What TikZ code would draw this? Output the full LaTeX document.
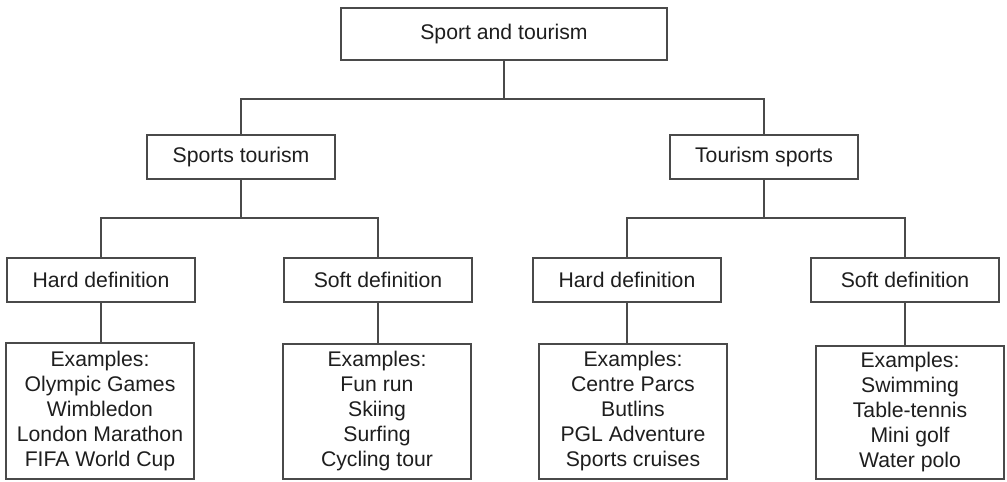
\documentclass[tikz,border=0pt]{standalone}
\usepackage{fontspec}
\setmainfont{Liberation Sans}
\definecolor{linec}{HTML}{4A4A4A}
\definecolor{textc}{HTML}{1E1E1E}
\begin{document}
\begin{tikzpicture}[x=1pt,y=-1pt,
  box/.style={draw=linec, line width=1.4pt, fill=white, inner sep=0pt, text=textc,
    font=\fontsize{21.2}{25}\selectfont, align=center},
  conn/.style={draw=linec, line width=1.4pt}]
\useasboundingbox[fill=white] (0,0) rectangle (1007,482);
% level 0
\node[box, minimum width=326pt, minimum height=52pt] (top) at (504,34) {Sport and tourism};
% level 1
\node[box, minimum width=188pt, minimum height=44pt] (st) at (241,157) {Sports tourism};
\node[box, minimum width=188pt, minimum height=44pt] (ts) at (764,157) {Tourism sports};
% level 2
\node[box, minimum width=188pt, minimum height=44pt] (hl) at (101,280) {Hard definition};
\node[box, minimum width=188pt, minimum height=44pt] (sl) at (378,280) {Soft definition};
\node[box, minimum width=188pt, minimum height=44pt] (hr) at (627,280) {Hard definition};
\node[box, minimum width=188pt, minimum height=44pt] (sr) at (905,280) {Soft definition};
% level 3
\node[box, minimum width=188pt, minimum height=136pt] (el) at (100,411) {Examples:\\Olympic Games\\Wimbledon\\London Marathon\\FIFA World Cup};
\node[box, minimum width=188pt, minimum height=135pt] (esl) at (377,411.5) {Examples:\\Fun run\\Skiing\\Surfing\\Cycling tour};
\node[box, minimum width=188pt, minimum height=135pt] (ehr) at (633,411.5) {Examples:\\Centre Parcs\\Butlins\\PGL Adventure\\Sports cruises};
\node[box, minimum width=188pt, minimum height=133pt] (esr) at (910,412.5) {Examples:\\Swimming\\Table-tennis\\Mini golf\\Water polo};
% bus coordinates
\coordinate (b0) at (0,99);
\coordinate (b1) at (0,218);
% connectors
\draw[conn] (top.south) -- (top.south |- b0);
\draw[conn] (st.north) |- (b0 -| top.south) -| (ts.north);
\draw[conn] (st.south) -- (st.south |- b1);
\draw[conn] (hl.north) |- (b1 -| st.south) -| (sl.north);
\draw[conn] (ts.south) -- (ts.south |- b1);
\draw[conn] (hr.north) |- (b1 -| ts.south) -| (sr.north);
\draw[conn] (hl.south) -- (hl.south |- el.north);
\draw[conn] (sl.south) -- (sl.south |- esl.north);
\draw[conn] (hr.south) -- (hr.south |- ehr.north);
\draw[conn] (sr.south) -- (sr.south |- esr.north);
\end{tikzpicture}
\end{document}
